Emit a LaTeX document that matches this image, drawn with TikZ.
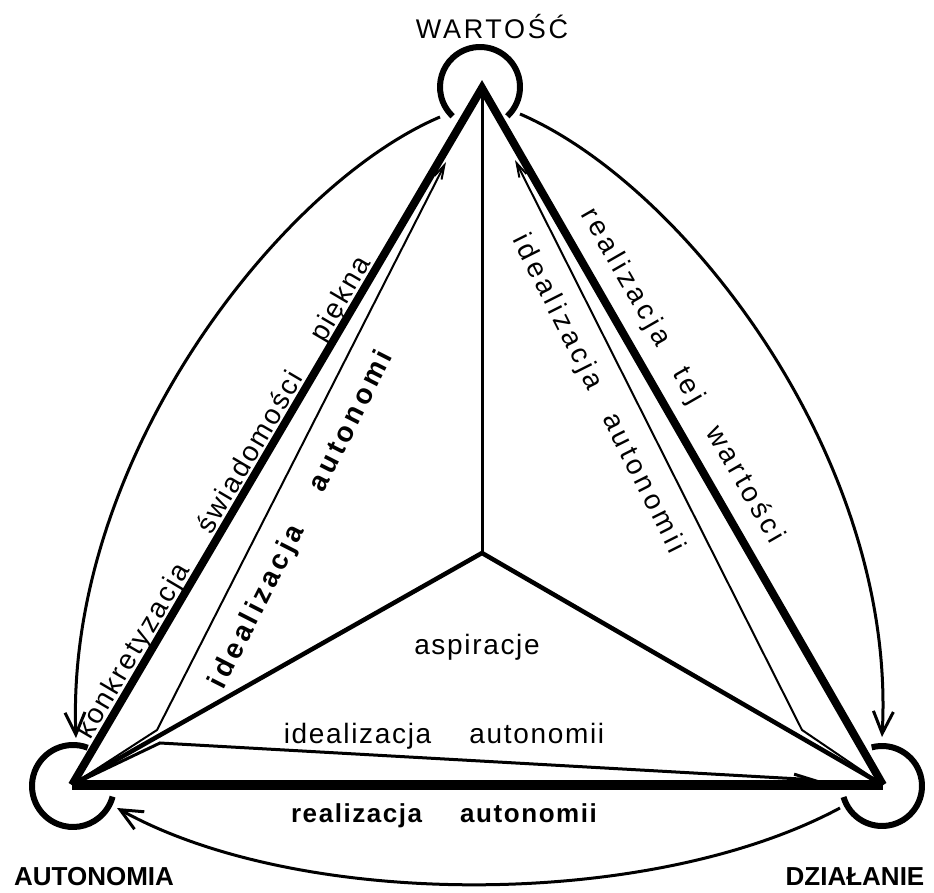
\documentclass[tikz,border=0pt]{standalone}
\usepackage{fontspec}
\setmainfont{Liberation Sans}
\newfontfamily\fA[LetterSpace=6]{Liberation Sans}
\newfontfamily\fB[LetterSpace=14]{Liberation Sans}
\newfontfamily\fC[LetterSpace=8]{Liberation Sans}
\newfontfamily\fW[LetterSpace=10]{Liberation Sans}
\usetikzlibrary{arrows.meta}
\newcommand\wg[1]{\hspace{#1pt}}
\begin{document}
\begin{tikzpicture}[x=1pt,y=1pt,
  edge/.style={line width=8pt, line join=miter, miter limit=20},
  basel/.style={line width=10pt},
  spoke/.style={line width=4.5pt},
  vspoke/.style={line width=3pt},
  thinarr/.style={line width=2pt, line join=miter, -{Straight Barb[length=14pt,width=8pt]}},
  botarr/.style={line width=3pt, line join=miter, -{Straight Barb[length=18pt,width=9pt]}},
  ring/.style={line width=6pt},
  curvearr/.style={line width=3pt, -{Straight Barb[length=22pt,width=20pt,line width=3pt]}},
  lbl/.style={inner sep=0pt, font=\fontsize{28}{30}\selectfont\fA},
  lblw/.style={inner sep=0pt, font=\fontsize{28}{30}\selectfont\fB},
  lblk/.style={inner sep=0pt, font=\fontsize{28}{30}\selectfont\fC},
  title/.style={inner sep=0pt, font=\fontsize{27}{30}\selectfont\fW},
  boldtitle/.style={inner sep=0pt, font=\fontsize{26}{30}\selectfont\bfseries}
]
\useasboundingbox (0,0) rectangle (934,892);
\fill[white] (0,0) rectangle (934,892);

% main points
\coordinate (W) at (482,804);
\coordinate (A) at (72,107);
\coordinate (D) at (883,107);
\coordinate (C) at (482,339);
\coordinate (L) at (157,162);
\coordinate (Lt) at (446,730);
\coordinate (R) at (802,162);
\coordinate (Rt) at (515,732);
\coordinate (B) at (160,149);
\coordinate (Bt) at (818,112);

% rings
\coordinate (rW) at (480,805);
\coordinate (rA) at (73,106);
\coordinate (rD) at (882,106);
\draw[ring] (rW) ++(-47:40) arc[start angle=-47,end angle=227,radius=40];
\draw[ring] (rA) ++(69:41) arc[start angle=69,end angle=345,radius=41];
\draw[ring] (rD) ++(105:40) arc[start angle=105,end angle=-164,radius=40];

% spokes
\draw[vspoke] (C) -- (W);
\draw[spoke] (C) -- (A);
\draw[spoke] (C) -- (D);

% thin arrows
\draw[thinarr] (A) -- (L) -- (Lt);
\draw[thinarr] (D) -- (R) -- (Rt);
\draw[botarr] (A) -- (B) -- (Bt);

% triangle
\draw[edge] (A) -- (W) -- (D);
\draw[basel] (A) -- (D);

% outer curved arrows
\coordinate (c1s) at (440,775); \coordinate (c1e) at (76,154);
\coordinate (c2s) at (520,778); \coordinate (c2e) at (882,155);
\coordinate (c3s) at (840,84);  \coordinate (c3e) at (117,84);
\draw[curvearr] (c1s) .. controls (280,707) and (65,432) .. (c1e);
\draw[curvearr] (c2s) .. controls (685,707) and (897,432) .. (c2e);
\draw[curvearr] (c3s) .. controls (650,-18) and (300,-18) .. (c3e);

% vertex labels
\node[title] (tW) at (492,865) {WARTOŚĆ};
\node[boldtitle] (tA) at (94,15) {AUTONOMIA};
\node[boldtitle] (tD) at (855,15) {DZIAŁANIE};

% horizontal texts
\node[lbl, anchor=base] (tasp) at (477,237) {aspiracje};
\node[lbl, anchor=base] (tia) at (444,149) {idealizacja\wg{38}autonomii};
\node[lbl, anchor=base, font=\fontsize{26}{30}\selectfont\fA\bfseries] (tra) at (444,70) {realizacja\wg{38}autonomii};

% sloped texts
\node[lblk, rotate=59.5, anchor=base] (tk) at (231,390) {konkretyzacja\wg{40}świadomości\wg{40}piękna};
\node[lblw, rotate=-60.1] (trw) at (682,516) {realizacja\wg{30}tej\wg{30}wartości};
\node[lblw, rotate=63, font=\fontsize{28}{30}\selectfont\fB\bfseries] (til) at (302,372) {idealizacja\wg{42}autonomi};
\node[lblw, rotate=-63.3] (tir) at (598,498) {idealizacja\wg{30}autonomii};
\end{tikzpicture}
\end{document}
